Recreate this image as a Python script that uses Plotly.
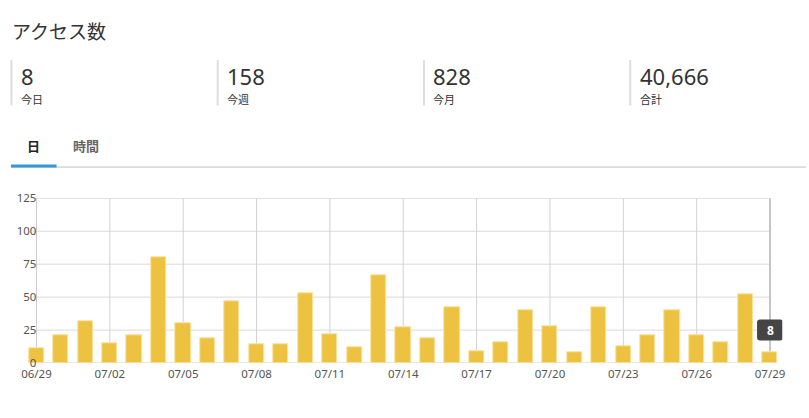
import plotly.graph_objects as go

W, H = 809, 418

# daily access counts (06/29 - 07/29)
dates = ["06/29", "06/30", "07/01", "07/02", "07/03", "07/04", "07/05", "07/06",
         "07/07", "07/08", "07/09", "07/10", "07/11", "07/12", "07/13", "07/14",
         "07/15", "07/16", "07/17", "07/18", "07/19", "07/20", "07/21", "07/22",
         "07/23", "07/24", "07/25", "07/26", "07/27", "07/28", "07/29"]
counts = [11, 21, 32, 15, 21, 80, 30, 19, 47, 14, 14, 53, 22, 12, 67, 27,
          19, 42, 9, 16, 40, 28, 8, 42, 13, 21, 40, 21, 16, 52, 8]

y_ticks = [0, 25, 50, 75, 100, 125]
x_ticks = dates[::3]

stat_values = ["8", "158", "828", "40,666"]
stat_labels = ["今日", "今週", "今月", "合計"]
tab_labels = ["日", "時間"]

JP = "Noto Sans CJK JP, Noto Sans, sans-serif"
NUM = "Noto Sans, sans-serif"


def px(x):
    return x / W


def py(y):
    return 1 - y / H


fig = go.Figure()
fig.add_trace(go.Bar(
    x=dates, y=counts, width=0.62,
    marker=dict(color="#edc240", line=dict(color="#f8e4a6", width=1)),
    hoverinfo="skip",
))

shapes = []
n = len(dates) - 1
# horizontal grid
for v in y_ticks[1:-1]:
    shapes.append(dict(type="line", xref="x", yref="y", x0=-0.15, x1=n, y0=v, y1=v,
                       line=dict(color="#dadada", width=1), layer="below"))
# vertical grid
for d in x_ticks[1:-1]:
    i = dates.index(d)
    shapes.append(dict(type="line", xref="x", yref="y", x0=i, x1=i, y0=0, y1=y_ticks[-1],
                       line=dict(color="#d2d2d2", width=1), layer="below"))
# border box
shapes.append(dict(type="line", xref="x", yref="y", x0=-0.15, x1=n, y0=y_ticks[-1], y1=y_ticks[-1],
                   line=dict(color="#cccccc", width=1), layer="below"))
shapes.append(dict(type="line", xref="x", yref="y", x0=0, x1=0, y0=0, y1=y_ticks[-1],
                   line=dict(color="#cccccc", width=1), layer="below"))
shapes.append(dict(type="line", xref="x", yref="y", x0=n, x1=n, y0=0, y1=y_ticks[-1],
                   line=dict(color="#c4c4c4", width=2), layer="below"))
shapes.append(dict(type="line", xref="x", yref="y", x0=-0.15, x1=n, y0=0, y1=0,
                   line=dict(color="#c8c8c8", width=1), layer="below"))

# tooltip box over the last bar
shapes.append(dict(type="path", xref="x", yref="y", xsizemode="pixel", ysizemode="pixel",
                   xanchor=n, yanchor=counts[-1],
                   path="M -10 12 L 10 12 Q 13 12 13 15 L 13 30 Q 13 33 10 33 L -10 33 "
                        "Q -13 33 -13 30 L -13 15 Q -13 12 -10 12 Z",
                   fillcolor="#454545", line=dict(width=0), layer="above"))

# header separators
for k in range(len(stat_values)):
    x0 = 8.5 + k * 207.8
    shapes.append(dict(type="line", xref="paper", yref="paper", x0=px(x0), x1=px(x0),
                       y0=py(54), y1=py(101), line=dict(color="#dddddd", width=2)))
# tab underline
shapes.append(dict(type="line", xref="paper", yref="paper", x0=px(8), x1=1,
                   y0=py(165), y1=py(165), line=dict(color="#b8c2cc", width=1)))
shapes.append(dict(type="line", xref="paper", yref="paper", x0=px(8), x1=px(54),
                   y0=py(164), y1=py(164), line=dict(color="#3497db", width=3)))

ann = []
ann.append(dict(text="アクセス数", x=px(7), y=py(23), xref="paper", yref="paper",
                xanchor="left", yanchor="middle", showarrow=False,
                font=dict(family=JP, size=19, color="#333333")))
for k, (v, lab) in enumerate(zip(stat_values, stat_labels)):
    x0 = 16 + k * 207.8
    ann.append(dict(text=v, x=px(x0), y=py(71), xref="paper", yref="paper",
                    xanchor="left", yanchor="middle", showarrow=False,
                    font=dict(family=NUM, size=22, color="#333333")))
    ann.append(dict(text=lab, x=px(x0), y=py(94), xref="paper", yref="paper",
                    xanchor="left", yanchor="middle", showarrow=False,
                    font=dict(family=JP, size=11, color="#333333")))
ann.append(dict(text="<b>" + tab_labels[0] + "</b>", x=px(31), y=py(143), xref="paper", yref="paper",
                xanchor="center", yanchor="middle", showarrow=False,
                font=dict(family=JP, size=13, color="#222222")))
ann.append(dict(text="<b>" + tab_labels[1] + "</b>", x=px(83.5), y=py(143), xref="paper", yref="paper",
                xanchor="center", yanchor="middle", showarrow=False,
                font=dict(family=JP, size=13, color="#666666")))
ann.append(dict(text="<b>" + str(counts[-1]) + "</b>", x=n, y=counts[-1], xref="x", yref="y",
                yshift=22, showarrow=False,
                font=dict(family=NUM, size=12, color="#ffffff")))

fig.update_layout(
    width=W, height=H,
    margin=dict(l=0, r=0, t=0, b=0),
    paper_bgcolor="white", plot_bgcolor="rgba(0,0,0,0)",
    showlegend=False,
    bargap=0,
    shapes=shapes,
    annotations=ann,
    xaxis=dict(type="category", domain=[px(21.4), px(785.1)], range=[-0.5, n + 0.5],
               tickmode="array", tickvals=x_ticks, ticktext=x_ticks,
               showgrid=False, zeroline=False, showline=False, ticks="",
               tickfont=dict(family=NUM, size=11.5, color="#555555"), ticklabelstandoff=2),
    yaxis=dict(domain=[py(368.3), py(197.3)], range=[0, y_ticks[-1]],
               anchor="free", position=px(33.7),
               tickmode="array", tickvals=y_ticks,
               showgrid=False, zeroline=False, showline=False, ticks="",
               tickfont=dict(family=NUM, size=11.5, color="#555555")),
)

# page body has a default margin; drop it so the figure sits at the window corner
fig.write_html("out.html", config={"displayModeBar": False},
               post_script="document.body.style.margin='0px';")
